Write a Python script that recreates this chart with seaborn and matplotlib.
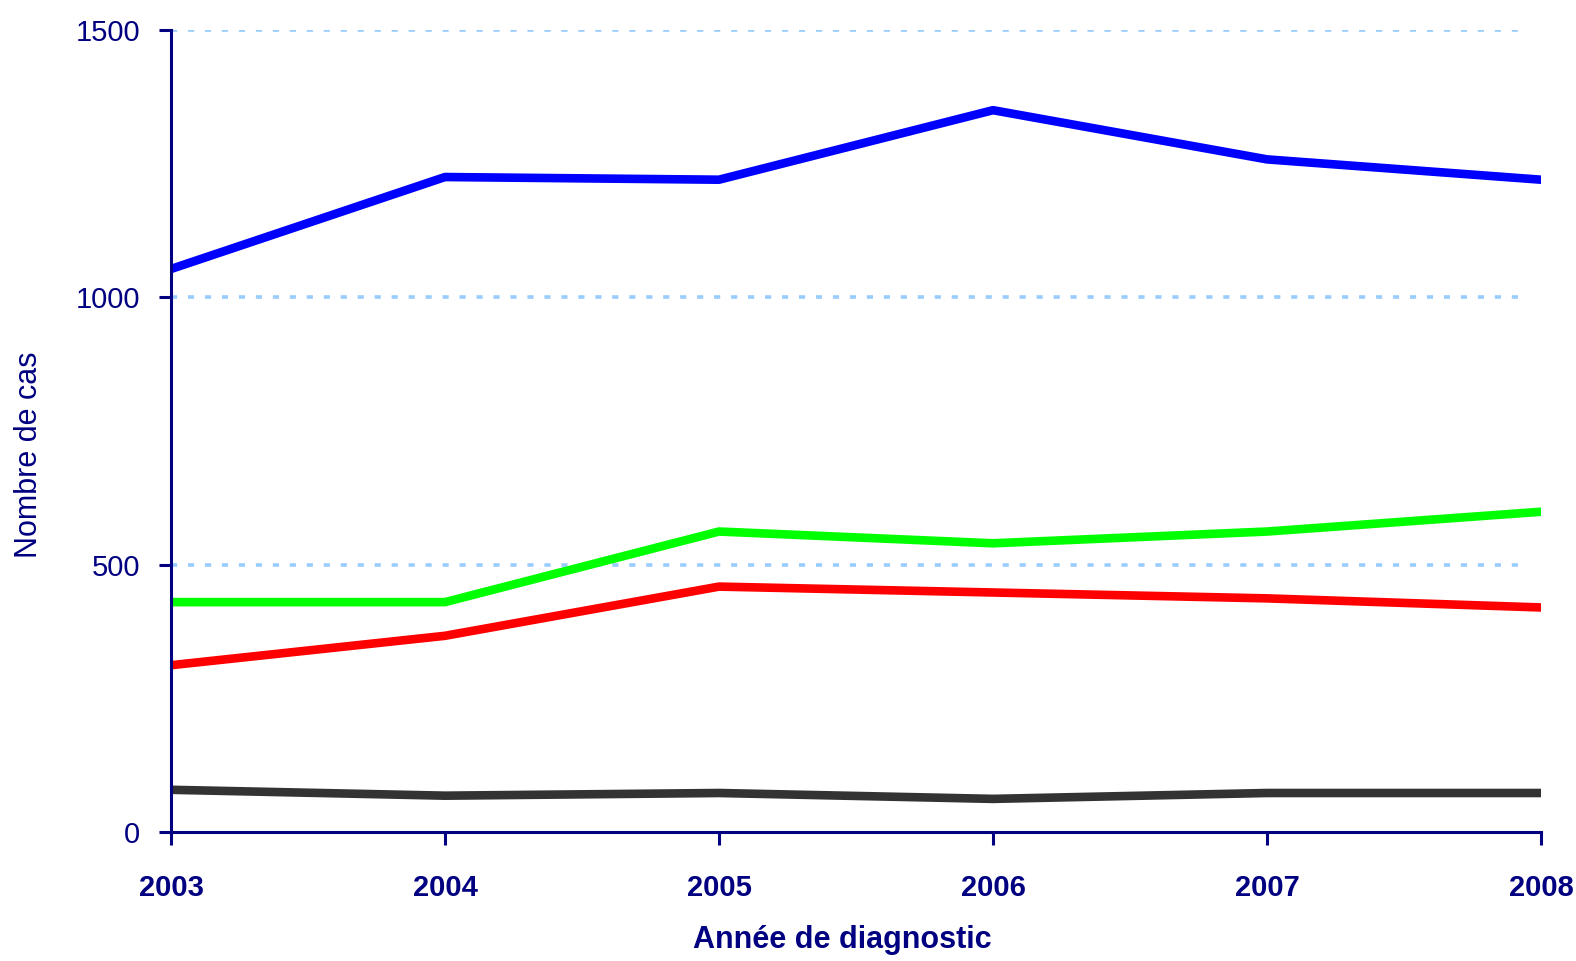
import pandas as pd
import matplotlib
matplotlib.use("Agg")
import matplotlib.pyplot as plt
import seaborn as sns

years = [2003, 2004, 2005, 2006, 2007, 2008]
serie_bleue = [1053, 1225, 1220, 1350, 1258, 1220]
serie_verte = [430, 430, 562, 540, 562, 599]
serie_rouge = [312, 367, 459, 448, 437, 420]
serie_noire = [79, 68, 73, 62, 73, 73]
y_ticks = [0, 500, 1000, 1500]

navy = "#000080"
couleurs = {"bleu": "#0000ff", "vert": "#00ff00", "rouge": "#ff0000", "noir": "#333333"}

sns.set_style("white")
plt.rcParams["font.family"] = ["Liberation Sans", "DejaVu Sans"]

df = pd.DataFrame({
    "annee": years * 4,
    "cas": serie_bleue + serie_verte + serie_rouge + serie_noire,
    "serie": ["bleu"] * 6 + ["vert"] * 6 + ["rouge"] * 6 + ["noir"] * 6,
})

fig = plt.figure(figsize=(15.76, 9.61), dpi=100)
ax = fig.add_axes([0.1085, 0.1342, 0.9778 - 0.1085, 0.9688 - 0.1342])

# grille pointillée bleu clair
for y in y_ticks[1:]:
    ax.axhline(y, xmin=0, xmax=0.99, color="#99ccff", lw=2.6,
               dashes=(1.7, 3.0), zorder=0)

sns.lineplot(data=df, x="annee", y="cas", hue="serie", palette=couleurs,
             linewidth=6.2, legend=False, ax=ax, zorder=3,
             solid_capstyle="round")

ax.set_xlim(2003, 2008)
ax.set_ylim(0, 1500)
ax.set_xticks(years)
ax.set_xticklabels([str(a) for a in years], fontsize=21, fontweight="bold", color=navy)
ax.set_yticks(y_ticks)
ax.set_yticklabels([str(v) for v in y_ticks], fontsize=21, color=navy)

for side in ["top", "right"]:
    ax.spines[side].set_visible(False)
for side in ["left", "bottom"]:
    ax.spines[side].set_color(navy)
    ax.spines[side].set_linewidth(2.2)
    ax.spines[side].set_zorder(4)

ax.tick_params(axis="x", bottom=True, direction="out", length=9, width=2.2, color=navy, pad=21)
ax.tick_params(axis="y", left=True, direction="out", length=9, width=2.2, color=navy, pad=13)

ax.set_xlabel("Année de diagnostic", fontsize=22, fontweight="bold", color=navy)
ax.set_ylabel("Nombre de cas", fontsize=22, color=navy)
ax.xaxis.set_label_coords(0.49, -0.135)
ax.yaxis.set_label_coords(-0.104, 0.471)
ax.xaxis.label.set_va("center")
ax.yaxis.label.set_va("center")

fig.savefig("out.png", dpi=100)
